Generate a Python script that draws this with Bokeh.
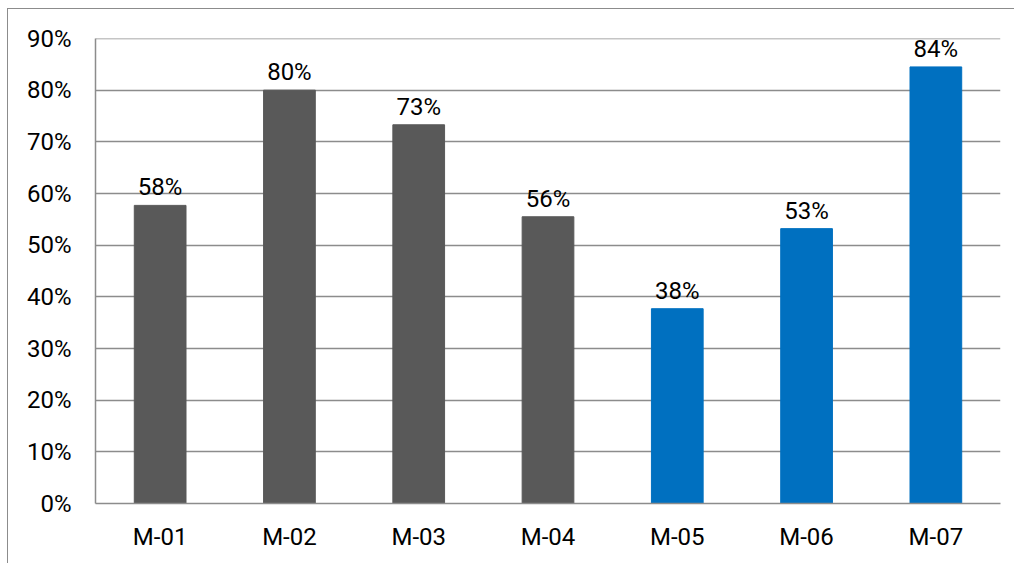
from bokeh.plotting import figure
from bokeh.models import ColumnDataSource, NumeralTickFormatter, FixedTicker, LabelSet, Span
from bokeh.core.properties import value
from bokeh.embed import file_html
from bokeh.resources import INLINE

categories = ["M-01", "M-02", "M-03", "M-04", "M-05", "M-06", "M-07"]
values = [0.577, 0.800, 0.733, 0.555, 0.377, 0.532, 0.845]
labels = ["58%", "80%", "73%", "56%", "38%", "53%", "84%"]
colors = ["#595959", "#595959", "#595959", "#595959", "#0070C0", "#0070C0", "#0070C0"]
y_ticks = [0, 0.1, 0.2, 0.3, 0.4, 0.5, 0.6, 0.7, 0.8, 0.9]

FONT = "Roboto"
FSIZE = "24px"

src = ColumnDataSource(dict(cat=categories, val=values, lab=labels, col=colors))

p = figure(x_range=categories, y_range=(0, 0.9), width=1007, height=555,
           output_backend="svg", toolbar_location=None,
           min_border_left=87, min_border_right=15, min_border_top=29, min_border_bottom=61)
p.styles = {"border-left": "1px solid #8c8c8c", "border-top": "1px solid #8c8c8c",
            "margin-left": "7px", "margin-top": "8px"}
p.x_range.range_padding = 0
p.outline_line_color = None
p.background_fill_color = "white"

p.vbar(x="cat", top="val", width=0.4, color="col", source=src)

lbl = LabelSet(x="cat", y="val", text="lab", source=src, text_align="center",
               text_baseline="bottom", y_offset=4, text_font=value(FONT),
               text_font_size=FSIZE, text_color="black")
p.add_layout(lbl)

p.yaxis.ticker = FixedTicker(ticks=y_ticks)
p.yaxis.formatter = NumeralTickFormatter(format="0%")
for ax in (p.xaxis[0], p.yaxis[0]):
    ax.axis_line_color = "#8c8c8c"
    ax.axis_line_width = 1.5
    ax.major_tick_line_color = None
    ax.minor_tick_line_color = None
    ax.major_label_text_font = FONT
    ax.major_label_text_font_size = FSIZE
    ax.major_label_text_color = "black"
p.yaxis.major_label_standoff = 18
p.xaxis.major_label_standoff = 13

p.xgrid.grid_line_color = None
p.ygrid.grid_line_color = "#8c8c8c"
p.ygrid.grid_line_width = 1.5
p.ygrid.ticker = FixedTicker(ticks=y_ticks)
p.add_layout(Span(location=y_ticks[-1], dimension="width", line_color="#8c8c8c",
                  line_width=1.5, level="underlay"))

open("out.html", "w").write(file_html(p, INLINE))
